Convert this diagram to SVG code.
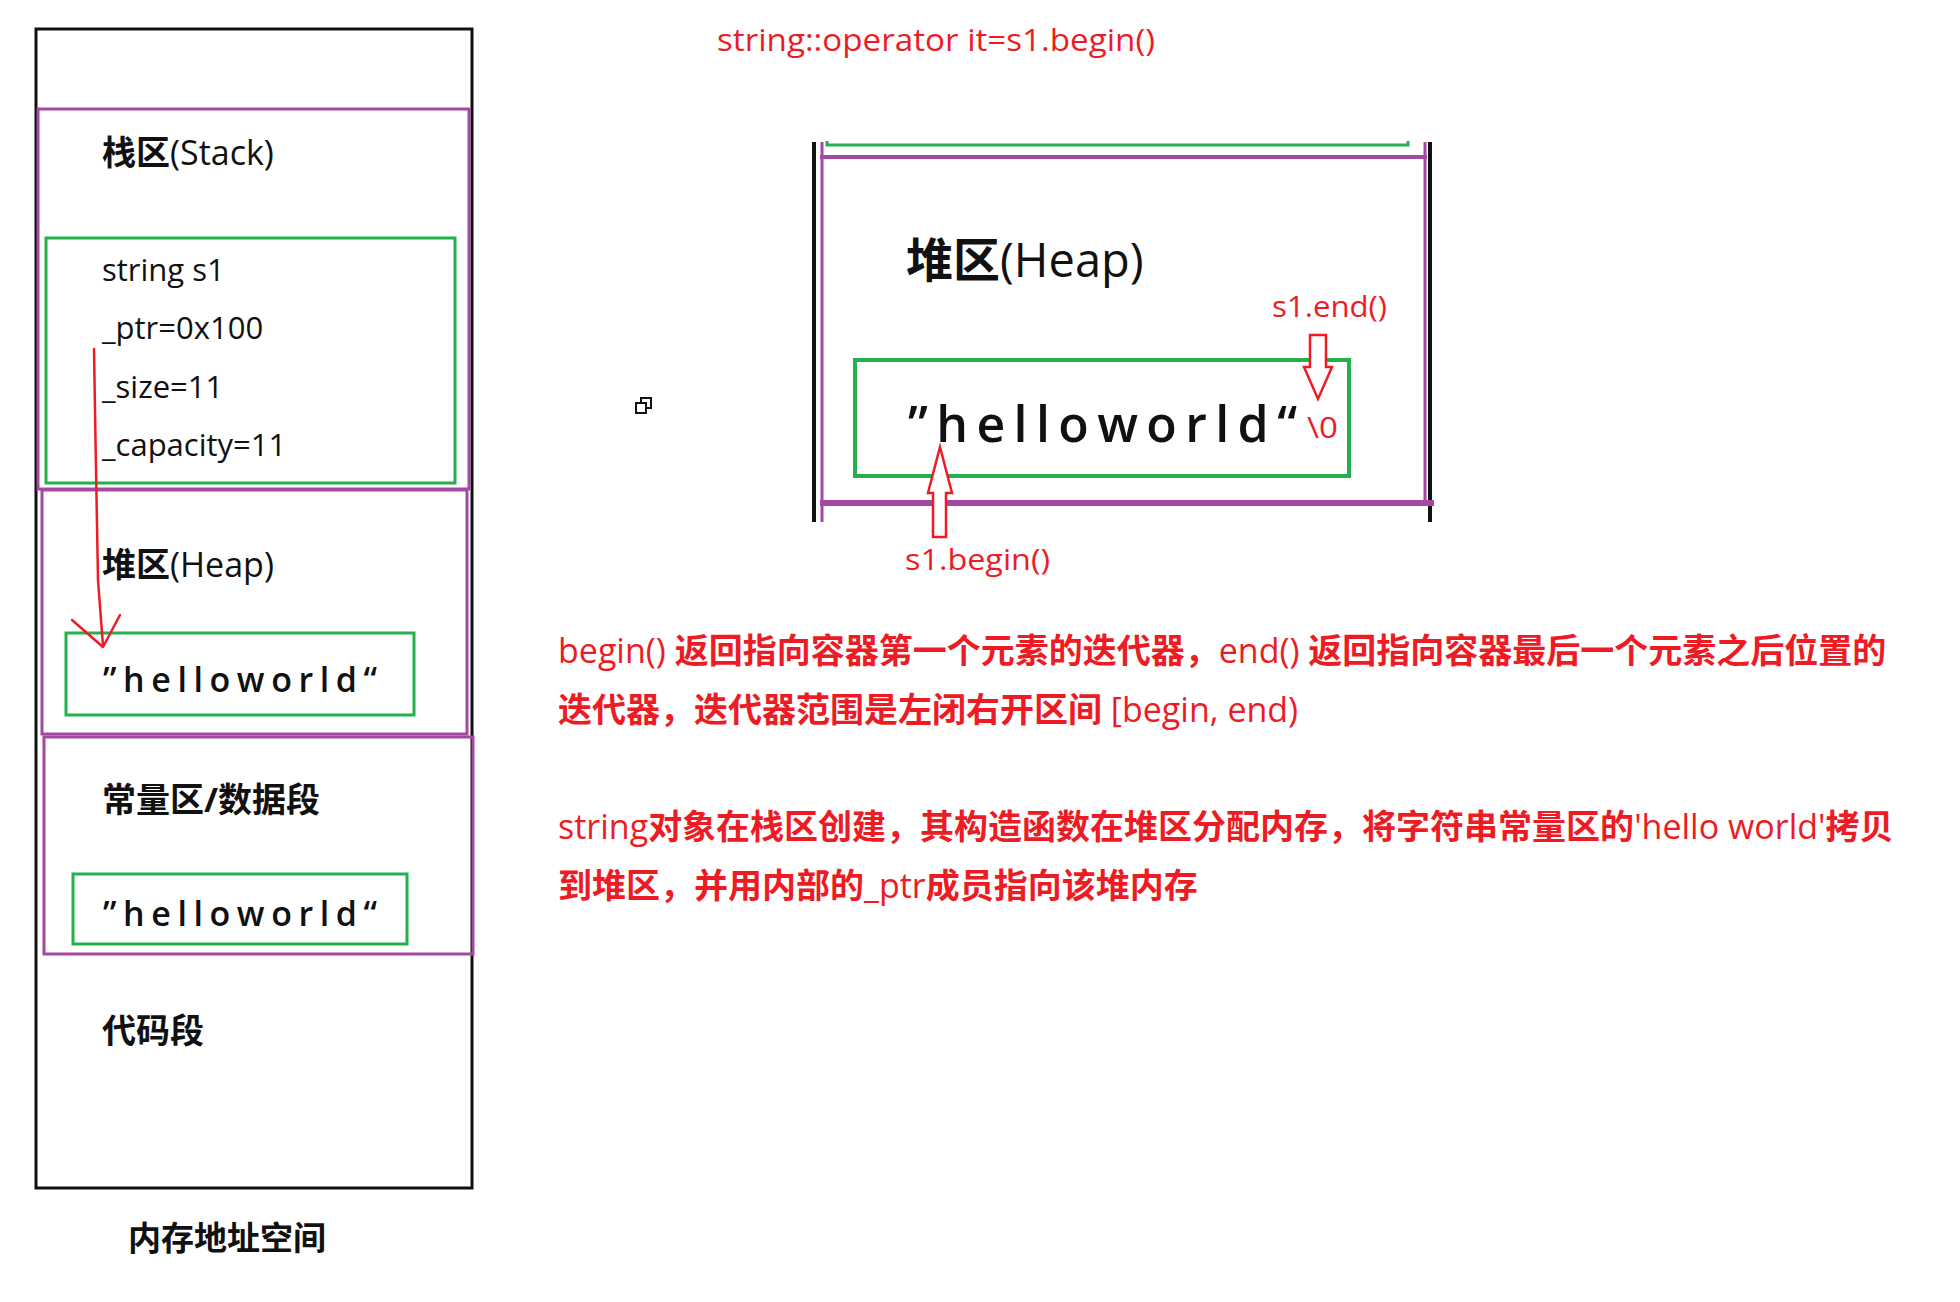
<svg xmlns="http://www.w3.org/2000/svg" width="1960" height="1302" viewBox="0 0 1960 1302">
<style>
text{font-family:"Open Sans","Noto Sans CJK SC",sans-serif;fill:#111}
.b{font-weight:700}
.lbl{font-size:34px}
.fld{font-size:31px;font-weight:500}
.hw{font-weight:600}
.red{fill:#ed1c24}
.para{font-size:34px;fill:#ed1c24}
.pur{fill:none;stroke:#a349a4;stroke-width:3}
.grn{fill:none;stroke:#22b14c;stroke-width:3}
.blk{fill:none;stroke:#111;stroke-width:3}
.rl{fill:none;stroke:#ed1c24;stroke-width:2.5;stroke-linecap:round;stroke-linejoin:round}
.ha{fill:#fff;stroke:#ed1c24;stroke-width:2.5;stroke-linejoin:miter}
</style>
<rect width="1960" height="1302" fill="#fff"/>

<g id="memory">
  <rect class="blk" x="36" y="29" width="436" height="1159"/>
</g>
<g id="stack">
  <rect class="pur" x="38" y="109" width="431" height="380"/>
  <text class="lbl" x="102" y="165"><tspan class="b">栈区</tspan>(Stack)</text>
</g>
<g id="string-s1">
  <rect class="grn" x="46" y="238" width="409" height="245"/>
  <text class="fld" x="102" y="281">string s1</text>
  <text class="fld" x="102" y="339">_ptr=0x100</text>
  <text class="fld" x="102" y="398">_size=11</text>
  <text class="fld" x="102" y="456">_capacity=11</text>
</g>
<g id="heap">
  <rect class="pur" x="42" y="490" width="425" height="244"/>
  <text class="lbl" x="102" y="577"><tspan class="b">堆区</tspan>(Heap)</text>
</g>
<g id="heap-str">
  <rect class="grn" x="66" y="633" width="348" height="82"/>
  <text class="hw" x="103" y="692" font-size="34" textLength="274" lengthAdjust="spacing">”helloworld“</text>
</g>
<g id="const">
  <rect class="pur" x="44" y="737" width="429" height="217"/>
  <text class="lbl b" x="102" y="812">常量区/数据段</text>
</g>
<g id="const-str">
  <rect class="grn" x="73" y="874" width="334" height="70"/>
  <text class="hw" x="103" y="926" font-size="34" textLength="274" lengthAdjust="spacing">”helloworld“</text>
</g>
<g id="code">
  <text class="lbl b" x="102" y="1043">代码段</text>
</g>
<g id="caption">
  <text class="b" x="128" y="1250" font-size="33">内存地址空间</text>
</g>

<g id="title">
  <text class="red" x="717" y="51" font-size="31" textLength="438" lengthAdjust="spacingAndGlyphs">string::operator it=s1.begin()</text>
</g>

<g id="icon">
  <rect x="641" y="398" width="10" height="10" fill="#fff" stroke="#111" stroke-width="2"/>
  <rect x="636" y="403" width="10" height="10" fill="#fff" stroke="#111" stroke-width="2"/>
</g>

<g id="heap-zoom">
  <line x1="814" y1="142" x2="814" y2="522" stroke="#111" stroke-width="4"/>
  <line x1="1430" y1="142" x2="1430" y2="522" stroke="#111" stroke-width="4"/>
  <polyline points="827,141 827,145 1408,145 1408,141" fill="none" stroke="#22b14c" stroke-width="3"/>
  <line x1="822" y1="142" x2="822" y2="522" stroke="#a349a4" stroke-width="3"/>
  <line x1="1425" y1="142" x2="1425" y2="505" stroke="#a349a4" stroke-width="3"/>
  <line x1="820" y1="157" x2="1427" y2="157" stroke="#a349a4" stroke-width="4"/>
  <line x1="820" y1="503" x2="1434" y2="503" stroke="#a349a4" stroke-width="6"/>
  <text x="906" y="277" font-size="47"><tspan class="b">堆区</tspan>(Heap)</text>
</g>
<g id="heap-zoom-str">
  <rect x="855" y="360" width="494" height="116" fill="none" stroke="#22b14c" stroke-width="4"/>
  <text class="hw" x="908" y="442" font-size="50" textLength="389" lengthAdjust="spacing">”helloworld“</text>
  <text class="red" x="1307" y="438" font-size="30" textLength="31" lengthAdjust="spacingAndGlyphs">\0</text>
</g>
<g id="label-end">
  <text class="red" x="1272" y="317" font-size="30" textLength="115" lengthAdjust="spacingAndGlyphs">s1.end()</text>
</g>
<g id="label-begin">
  <text class="red" x="905" y="570" font-size="30" textLength="145" lengthAdjust="spacingAndGlyphs">s1.begin()</text>
</g>

<g id="connectors">
  <path class="rl" d="M94,349 C95,420 97,520 98,580 L103,646"/>
  <polyline class="rl" points="72,620 103,647 120,615"/>
  <polygon class="ha" points="1310,335 1326,335 1326,367 1332,367 1318,399 1304,367 1310,367"/>
  <polygon class="ha" points="940,447 952,493 946,493 946,537 933,537 933,493 928,493"/>
</g>

<g id="notes">
  <text class="para" x="558" y="663">begin() <tspan class="b">返回指向容器第一个元素的迭代器，</tspan>end() <tspan class="b">返回指向容器最后一个元素之后位置的</tspan></text>
  <text class="para" x="558" y="722"><tspan class="b">迭代器，迭代器范围是左闭右开区间</tspan> [begin, end)</text>
  <text class="para" x="558" y="839">string<tspan class="b">对象在栈区创建，其构造函数在堆区分配内存，将字符串常量区的</tspan>'hello world'<tspan class="b">拷贝</tspan></text>
  <text class="para" x="558" y="898"><tspan class="b">到堆区，并用内部的</tspan>_ptr<tspan class="b">成员指向该堆内存</tspan></text>
</g>
</svg>
